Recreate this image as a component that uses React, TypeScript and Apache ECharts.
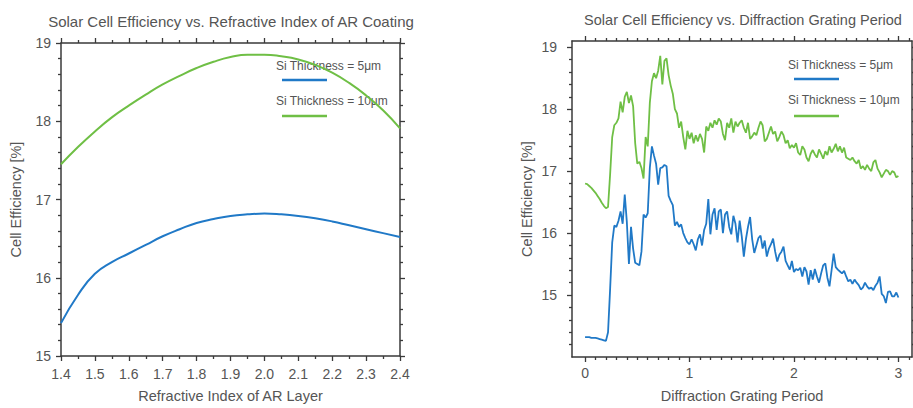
import React, { useEffect, useRef } from 'react';
import * as echarts from 'echarts';

// ---------- Left chart: efficiency vs refractive index of AR layer ----------
const arIndex = [1.4, 1.45, 1.5, 1.55, 1.6, 1.65, 1.7, 1.75, 1.8, 1.85, 1.9, 1.95, 2.0, 2.05, 2.1, 2.15, 2.2, 2.25, 2.3, 2.35, 2.4];
const arEff5um = [15.42, 15.78, 16.05, 16.2, 16.31, 16.42, 16.53, 16.62, 16.7, 16.75, 16.79, 16.81, 16.82, 16.81, 16.79, 16.76, 16.72, 16.67, 16.62, 16.57, 16.52];
const arEff10um = [17.45, 17.67, 17.87, 18.05, 18.2, 18.34, 18.47, 18.58, 18.68, 18.76, 18.82, 18.85, 18.85, 18.83, 18.79, 18.72, 18.62, 18.49, 18.33, 18.14, 17.91];

// ---------- Right chart: efficiency vs diffraction grating period ----------
const gratingPeriod = [
  0.0, 0.02, 0.04, 0.06, 0.08, 0.1, 0.12, 0.14, 0.16, 0.18,
  0.2, 0.22, 0.24, 0.26, 0.28, 0.3, 0.32, 0.34, 0.36, 0.38,
  0.4, 0.42, 0.44, 0.46, 0.48, 0.5, 0.52, 0.54, 0.56, 0.58,
  0.6, 0.62, 0.64, 0.66, 0.68, 0.7, 0.72, 0.74, 0.76, 0.78,
  0.8, 0.82, 0.84, 0.86, 0.88, 0.9, 0.92, 0.94, 0.96, 0.98,
  1.0, 1.02, 1.04, 1.06, 1.08, 1.1, 1.12, 1.14, 1.16, 1.18,
  1.2, 1.22, 1.24, 1.26, 1.28, 1.3, 1.32, 1.34, 1.36, 1.38,
  1.4, 1.42, 1.44, 1.46, 1.48, 1.5, 1.52, 1.54, 1.56, 1.58,
  1.6, 1.62, 1.64, 1.66, 1.68, 1.7, 1.72, 1.74, 1.76, 1.78,
  1.8, 1.82, 1.84, 1.86, 1.88, 1.9, 1.92, 1.94, 1.96, 1.98,
  2.0, 2.02, 2.04, 2.06, 2.08, 2.1, 2.12, 2.14, 2.16, 2.18,
  2.2, 2.22, 2.24, 2.26, 2.28, 2.3, 2.32, 2.34, 2.36, 2.38,
  2.4, 2.42, 2.44, 2.46, 2.48, 2.5, 2.52, 2.54, 2.56, 2.58,
  2.6, 2.62, 2.64, 2.66, 2.68, 2.7, 2.72, 2.74, 2.76, 2.78,
  2.8, 2.82, 2.84, 2.86, 2.88, 2.9, 2.92, 2.94, 2.96, 2.98,
  3.0,
];
const gratingEff5um = [
  14.32, 14.32, 14.32, 14.31, 14.31, 14.31, 14.3, 14.29, 14.28, 14.27,
  14.26, 14.4, 15.1, 15.85, 16.12, 16.1, 16.2, 16.35, 16.15, 16.62,
  16.18, 15.5, 16.1, 15.75, 15.52, 15.5, 15.48, 15.7, 16.3, 16.25,
  16.32, 17.05, 17.4, 17.25, 17.12, 16.78, 17.05, 17.06, 17.1, 17.08,
  16.6, 16.52, 16.45, 16.12, 16.18, 16.1, 16.14, 16.0, 15.92, 15.85,
  15.82, 15.9, 15.82, 15.72, 15.9, 15.98, 15.8, 16.05, 16.15, 16.55,
  15.98, 16.3, 16.4, 16.05, 16.35, 16.38, 16.0, 16.3, 16.35, 16.1,
  15.98, 16.28, 16.15, 15.85, 16.2, 15.95, 15.62, 15.9, 16.1, 16.26,
  15.9, 15.68, 15.8, 15.92, 15.96, 15.75, 15.88, 15.62, 15.75, 15.82,
  15.91, 15.7, 15.54, 15.65, 15.7, 15.78, 15.55, 15.48, 15.41, 15.55,
  15.37, 15.42, 15.4, 15.44, 15.3, 15.45, 15.38, 15.17, 15.4, 15.25,
  15.42, 15.3, 15.2, 15.35, 15.48, 15.51, 15.28, 15.14, 15.4, 15.67,
  15.45, 15.41, 15.38, 15.35, 15.39, 15.3, 15.22, 15.25, 15.18, 15.25,
  15.2, 15.16, 15.09, 15.12, 15.2, 15.14, 15.1, 15.12, 15.08, 15.15,
  15.2, 15.3, 15.02, 14.98, 14.87, 15.05, 15.06, 14.98, 14.98, 15.04,
  14.96,
];
const gratingEff10um = [
  16.8, 16.79, 16.76, 16.73, 16.69, 16.65, 16.6, 16.55, 16.49, 16.44,
  16.4, 16.42, 16.95, 17.55, 17.74, 17.78, 17.85, 18.12, 17.95, 18.2,
  18.28, 18.1, 18.22, 18.05, 17.45, 17.12, 17.15, 17.05, 16.88, 17.55,
  17.4, 18.1, 18.45, 18.58, 18.5, 18.62, 18.86, 18.4, 18.78, 18.82,
  18.55, 18.38, 18.25, 18.0, 17.93, 17.7, 17.8, 17.55, 17.35, 17.65,
  17.52, 17.62, 17.45, 17.58, 17.48, 17.6, 17.52, 17.3, 17.72, 17.65,
  17.78, 17.7, 17.82, 17.75, 17.85, 17.8, 17.6, 17.5, 17.78, 17.7,
  17.85, 17.62, 17.8, 17.72, 17.78, 17.82, 17.7, 17.62, 17.78, 17.52,
  17.56, 17.62, 17.58, 17.7, 17.8, 17.74, 17.48, 17.52, 17.62, 17.72,
  17.6, 17.64, 17.48, 17.55, 17.64, 17.58, 17.45, 17.5, 17.37, 17.42,
  17.38, 17.45, 17.3, 17.26, 17.4, 17.35, 17.22, 17.16, 17.28, 17.34,
  17.27, 17.22, 17.35, 17.28, 17.2, 17.32, 17.26, 17.4, 17.3, 17.36,
  17.44, 17.32, 17.4, 17.3, 17.38, 17.22, 17.2, 17.18, 17.22, 17.16,
  17.12, 17.18, 17.04, 17.08, 17.02, 17.1, 17.04, 17.0, 17.14, 17.18,
  17.04, 16.98, 16.9, 16.96, 17.02, 17.0, 16.94, 17.0, 16.98, 16.9,
  16.92,
];

// ---------- Tick positions ----------
const leftXMajor = [1.4, 1.5, 1.6, 1.7, 1.8, 1.9, 2.0, 2.1, 2.2, 2.3, 2.4];
const leftXMinor = [1.45, 1.55, 1.65, 1.75, 1.85, 1.95, 2.05, 2.15, 2.25, 2.35];
const leftYMajor = [15, 16, 17, 18, 19];
const leftYMinor = [15.2, 15.4, 15.6, 15.8, 16.2, 16.4, 16.6, 16.8, 17.2, 17.4, 17.6, 17.8, 18.2, 18.4, 18.6, 18.8];
const rightXMajor = [0, 1, 2, 3];
const rightXMinor = [
  0.1, 0.2, 0.3, 0.4, 0.5, 0.6, 0.7, 0.8, 0.9,
  1.1, 1.2, 1.3, 1.4, 1.5, 1.6, 1.7, 1.8, 1.9,
  2.1, 2.2, 2.3, 2.4, 2.5, 2.6, 2.7, 2.8, 2.9, 3.1,
];
const rightYMajor = [15, 16, 17, 18, 19];
const rightYMinor = [14.2, 14.4, 14.6, 14.8, 15.2, 15.4, 15.6, 15.8, 16.2, 16.4, 16.6, 16.8, 17.2, 17.4, 17.6, 17.8, 18.2, 18.4, 18.6, 18.8];

const seriesNames = ['Si Thickness = 5μm', 'Si Thickness = 10μm'];
const titles = ['Solar Cell Efficiency vs. Refractive Index of AR Coating', 'Solar Cell Efficiency vs. Diffraction Grating Period'];
const xNames = ['Refractive Index of AR Layer', 'Diffraction Grating Period'];
const yName = 'Cell Efficiency [%]';

const FONT = '"Liberation Sans", Arial, Helvetica, sans-serif';
const AX = '#3a3a3a';
const TXT = '#555555';
const BLUE = '#2079c7';
const GREEN = '#6fbf45';

function axis(
  gridIndex: number,
  position: string,
  min: number,
  max: number,
  ticks: number[],
  len: number,
  showLine: boolean,
  fmt?: (v: number) => string,
  margin?: number,
  name?: string,
  nameGap?: number,
) {
  return {
    type: 'value',
    gridIndex,
    position,
    min,
    max,
    axisLine: { show: showLine, onZero: false, lineStyle: { color: AX, width: 1.5 } },
    axisTick: { show: true, inside: false, length: len, customValues: ticks, lineStyle: { color: AX, width: 1.3 } },
    axisLabel: fmt
      ? { show: true, customValues: ticks, formatter: fmt, color: TXT, fontSize: 14, fontFamily: FONT, margin: margin ?? 8 }
      : { show: false },
    splitLine: { show: false },
    minorTick: { show: false },
    name: name ?? '',
    nameLocation: 'middle',
    nameGap: nameGap ?? 0,
    nameTextStyle: { color: TXT, fontSize: 14.5, fontFamily: FONT },
  };
}

function legend(textX: number, lineX1: number, lineX2: number, rows: number[][]) {
  const els: any[] = [];
  rows.forEach((r, i) => {
    els.push({
      type: 'text',
      x: textX,
      y: r[0],
      style: { text: seriesNames[i], fill: TXT, font: `12px ${FONT}`, align: 'left', verticalAlign: 'middle' },
    });
    els.push({
      type: 'line',
      shape: { x1: lineX1, y1: r[1], x2: lineX2, y2: r[1] },
      style: { stroke: i === 0 ? BLUE : GREEN, lineWidth: 2.5 },
    });
  });
  return els;
}

export default function App() {
  const ref = useRef<HTMLDivElement>(null);
  useEffect(() => {
    if (!ref.current) return;
    const chart = echarts.init(ref.current, undefined, { renderer: 'svg' });
    const f1 = (v: number) => v.toFixed(1);
    const f0 = (v: number) => String(Math.round(v));
    const option: any = {
      animation: false,
      backgroundColor: '#ffffff',
      grid: [
        { left: 61, top: 43, width: 339, height: 315, containLabel: false },
        { left: 572, top: 41, width: 340, height: 320, containLabel: false },
      ],
      xAxis: [
        axis(0, 'bottom', 1.4, 2.4, leftXMajor, 5, true, f1, 11, xNames[0], 32),
        axis(0, 'bottom', 1.4, 2.4, leftXMinor, 3, false),
        axis(0, 'top', 1.4, 2.4, leftXMajor, 5, true),
        axis(0, 'top', 1.4, 2.4, leftXMinor, 3, false),
        axis(1, 'bottom', -0.125, 3.13, rightXMajor, 5, true, f0, 9, xNames[1], 31),
        axis(1, 'bottom', -0.125, 3.13, rightXMinor, 3, false),
        axis(1, 'top', -0.125, 3.13, rightXMajor, 5, true),
        axis(1, 'top', -0.125, 3.13, rightXMinor, 3, false),
      ],
      yAxis: [
        axis(0, 'left', 15, 19, leftYMajor, 5, true, f0, 10, yName, 38),
        axis(0, 'left', 15, 19, leftYMinor, 3, false),
        axis(0, 'right', 15, 19, leftYMajor, 5, true),
        axis(0, 'right', 15, 19, leftYMinor, 3, false),
        axis(1, 'left', 14, 19.1, rightYMajor, 5, true, f0, 15, yName, 38),
        axis(1, 'left', 14, 19.1, rightYMinor, 3, false),
        axis(1, 'right', 14, 19.1, rightYMajor, 5, true),
        axis(1, 'right', 14, 19.1, rightYMinor, 3, false),
      ],
      series: [
        {
          name: seriesNames[0], type: 'line', xAxisIndex: 0, yAxisIndex: 0, smooth: true, showSymbol: false,
          lineStyle: { color: BLUE, width: 2 }, itemStyle: { color: BLUE },
          data: arIndex.map((x, i) => [x, arEff5um[i]]),
        },
        {
          name: seriesNames[1], type: 'line', xAxisIndex: 0, yAxisIndex: 0, smooth: true, showSymbol: false,
          lineStyle: { color: GREEN, width: 2 }, itemStyle: { color: GREEN },
          data: arIndex.map((x, i) => [x, arEff10um[i]]),
        },
        {
          name: seriesNames[0] + ' ', type: 'line', xAxisIndex: 4, yAxisIndex: 4, showSymbol: false,
          lineStyle: { color: BLUE, width: 1.8 }, itemStyle: { color: BLUE },
          data: gratingPeriod.map((x, i) => [x, gratingEff5um[i]]),
        },
        {
          name: seriesNames[1] + ' ', type: 'line', xAxisIndex: 4, yAxisIndex: 4, showSymbol: false,
          lineStyle: { color: GREEN, width: 1.8 }, itemStyle: { color: GREEN },
          data: gratingPeriod.map((x, i) => [x, gratingEff10um[i]]),
        },
      ],
      graphic: [
        {
          type: 'text', x: 231, y: 21,
          style: { text: titles[0], fill: TXT, font: `15px ${FONT}`, align: 'center', verticalAlign: 'middle' },
        },
        {
          type: 'text', x: 743, y: 20,
          style: { text: titles[1], fill: TXT, font: `14.5px ${FONT}`, align: 'center', verticalAlign: 'middle' },
        },
        ...legend(276, 282, 327, [[66, 80], [101, 116]]),
        ...legend(788, 794, 839, [[65, 79], [100, 116]]),
      ],
    };
    chart.setOption(option);
    return () => chart.dispose();
  }, []);
  return <div ref={ref} style={{ position: 'fixed', left: 0, top: 0, width: 913, height: 408, background: '#fff' }} />;
}
